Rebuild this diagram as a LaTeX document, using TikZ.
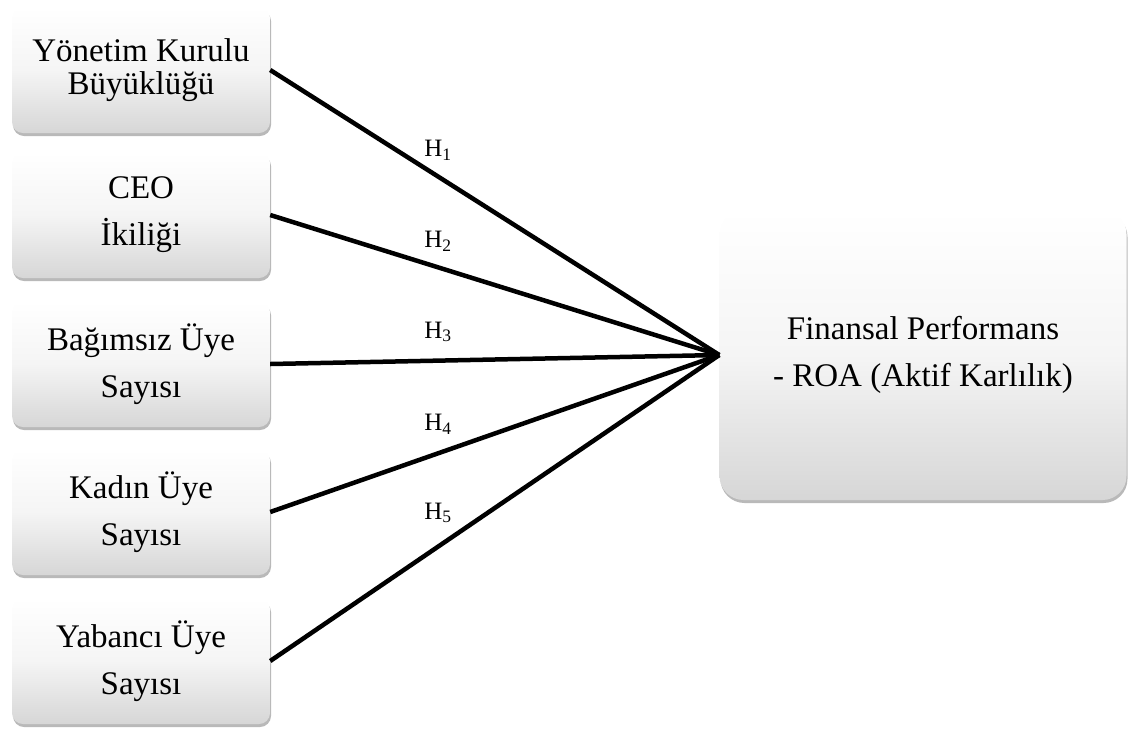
\documentclass[tikz,border=0pt]{standalone}
\usepackage{fontspec}
\setmainfont{Liberation Serif}
\usetikzlibrary{shadows}
\tikzset{
  varbox/.style={rounded corners=11pt, minimum width=258pt, minimum height=126pt,
    top color=white, bottom color=black!16, middle color=black!4, align=center, inner sep=0pt,
    drop shadow={opacity=0.55, shadow xshift=1pt, shadow yshift=-3pt},
    font=\fontsize{33}{47}\selectfont},
  roabox/.style={varbox, rounded corners=24pt, minimum width=407pt, minimum height=290pt},
  hyp/.style={font=\fontsize{25}{27}\selectfont},
  link/.style={line width=4.5pt}
}
\begin{document}
\begin{tikzpicture}[x=1pt,y=-1pt]
    \useasboundingbox (0,0) rectangle (1129,729);
    \node[varbox, font=\fontsize{33}{33}\selectfont] (yks) at (141,70) {Yönetim Kurulu\\Büyüklüğü};
    \node[varbox] (ceo) at (141,215) {CEO\\İkiliği};
    \node[varbox] (bag) at (141,364) {Bağımsız Üye\\Sayısı};
    \node[varbox] (kad) at (141,512) {Kadın Üye\\Sayısı};
    \node[varbox] (yab) at (141,661) {Yabancı Üye\\Sayısı};
    \node[roabox] (roa) at (923,355) {Finansal Performans\\- ROA (Aktif Karlılık)};
    \draw[link] (yks.east) -- (roa.west);
    \draw[link] (ceo.east) -- (roa.west);
    \draw[link] (bag.east) -- (roa.west);
    \draw[link] (kad.east) -- (roa.west);
    \draw[link] (yab.east) -- (roa.west);
    \node[hyp] (h1) at (438,150) {H\textsubscript{1}};
    \node[hyp] (h2) at (438,241) {H\textsubscript{2}};
    \node[hyp] (h3) at (438,332) {H\textsubscript{3}};
    \node[hyp] (h4) at (438,424) {H\textsubscript{4}};
    \node[hyp] (h5) at (438,513) {H\textsubscript{5}};
  \end{tikzpicture}
\end{document}
